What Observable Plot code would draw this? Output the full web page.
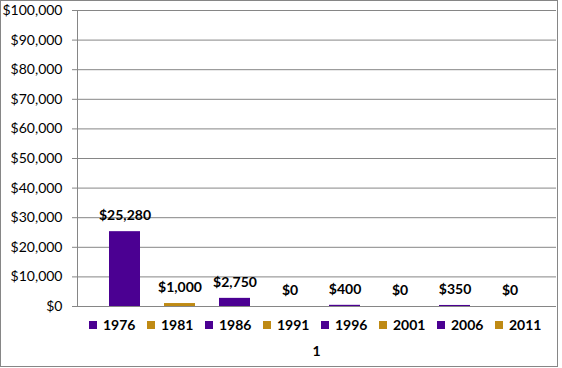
<!DOCTYPE html>
<html><head><meta charset="utf-8">
<script src="https://cdn.jsdelivr.net/npm/d3@7"></script>
<script src="https://cdn.jsdelivr.net/npm/@observablehq/plot@0.6"></script>
<style>
body{margin:0;background:#fff;}
#chart{position:relative;width:562px;height:368px;font-family:Lato,"Open Sans",sans-serif;color:#000;}
#chart svg{position:absolute;left:0;top:0;}
#box{position:absolute;left:0;top:0;width:556px;height:365px;border:1px solid #868686;pointer-events:none;}
#legend{position:absolute;left:89px;top:316px;display:flex;font-weight:bold;font-size:14px;line-height:18px;}
#legend .item{width:58px;display:flex;align-items:center;white-space:nowrap;}
#legend .sw{width:8px;height:8px;margin-right:6px;flex:none;}
#cat{position:absolute;left:0;width:633px;top:342px;text-align:center;font-weight:bold;font-size:14px;line-height:18px;}
</style></head>
<body>
<div id="chart">
  <div id="legend"></div>
  <div id="cat"></div>
  <div id="box"></div>
</div>
<script>
const years = ["1976","1981","1986","1991","1996","2001","2006","2011"];
const values = [25280, 1000, 2750, 0, 400, 0, 350, 0];
const seriesColors = ["#4b0092","#bf8a14","#4b0092","#bf8a14","#4b0092","#bf8a14","#4b0092","#bf8a14"];
const yTicks = [0,10000,20000,30000,40000,50000,60000,70000,80000,90000,100000];
const categoryLabel = "1";

const data = years.map((y,i)=>({year:y, value:values[i], color:seriesColors[i]}));
const fmt = d3.format(",");
const money = v => "$" + fmt(v);

const plot = Plot.plot({
  width:562, height:315,
  marginLeft:77, marginRight:6, marginTop:10, marginBottom:9,
  style:{fontFamily:"Lato, 'Open Sans', sans-serif", fontSize:"14px", color:"#000", background:"transparent", overflow:"visible"},
  x:{domain:years, range:[97,537], paddingInner:0.436, paddingOuter:0.218, axis:null},
  y:{domain:[0,100000], axis:null},
  marks:[
    Plot.ruleY(yTicks,{stroke:"#868686", strokeWidth:1}),
    Plot.axisY({ticks:yTicks, tickSize:5, tickPadding:10, tickFormat:money, stroke:"#868686", fill:"#000", label:null, fontSize:14}),
    Plot.frame({anchor:"left", stroke:"#868686"}),
    Plot.barY(data,{x:"year", y:"value", fill:"color"}),
    Plot.text(data,{x:"year", y:"value", text:d=>money(d.value), dy:-16, fontWeight:"bold", fill:"#000", fontSize:14})
  ]
});
document.getElementById("chart").prepend(plot);

const legend = document.getElementById("legend");
data.forEach(d=>{
  const it = document.createElement("div"); it.className="item";
  const sw = document.createElement("span"); sw.className="sw"; sw.style.background=d.color;
  const t = document.createElement("span"); t.textContent=d.year;
  it.append(sw,t); legend.append(it);
});
document.getElementById("cat").textContent = categoryLabel;
</script>
</body></html>
